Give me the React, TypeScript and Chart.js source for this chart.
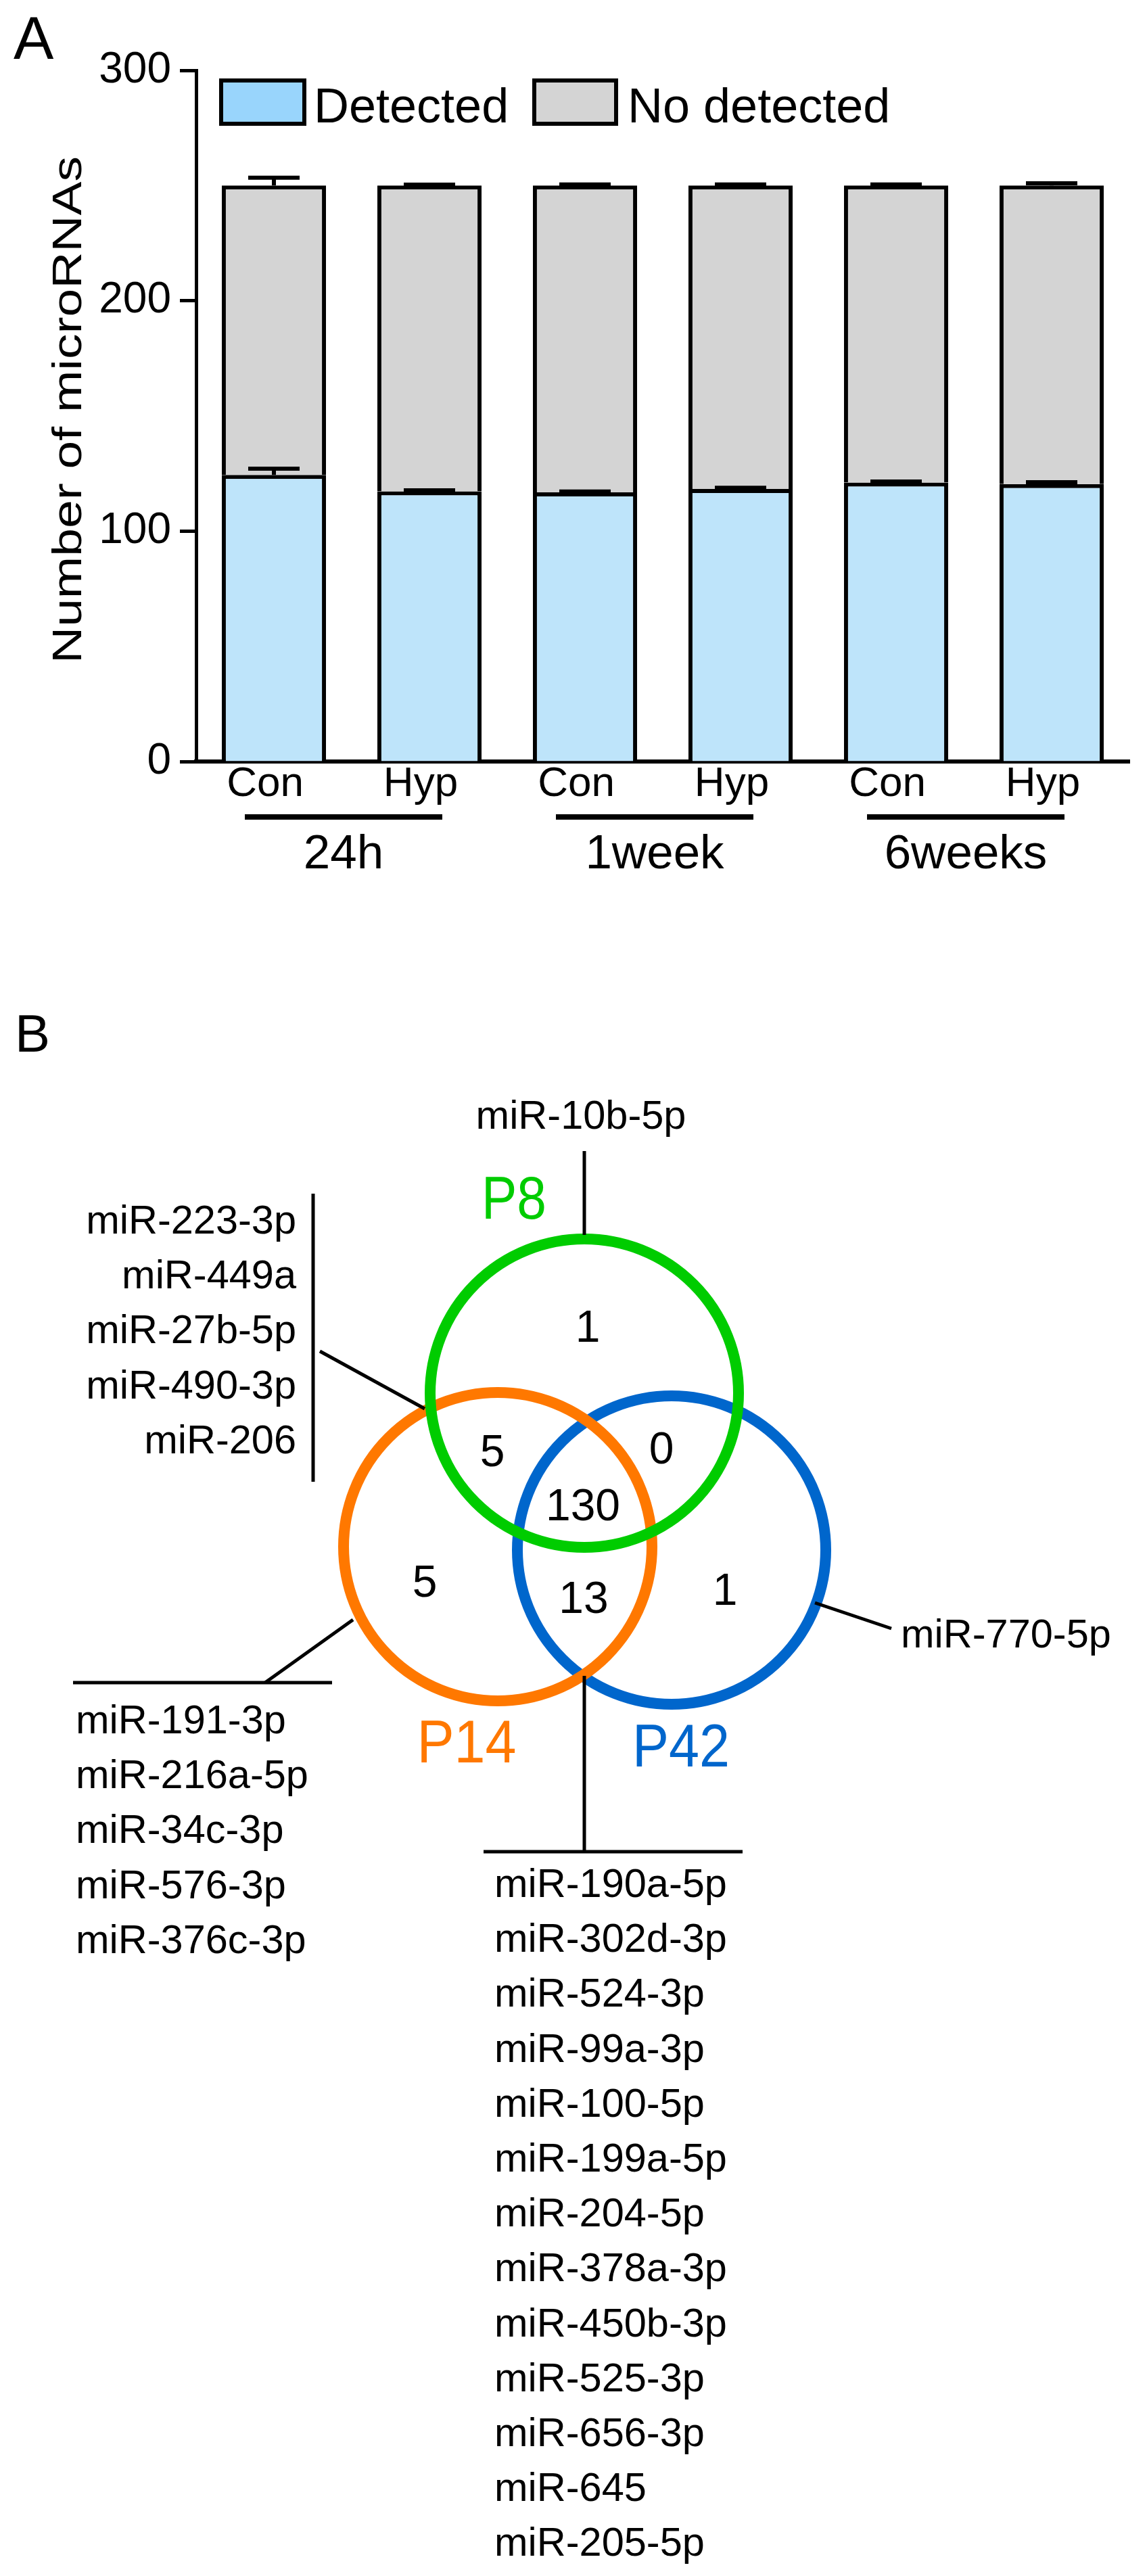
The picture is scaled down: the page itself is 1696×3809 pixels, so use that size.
import React, { useEffect, useRef } from "react";
import { Chart, registerables } from "chart.js";

Chart.register(...registerables);

const FONT = '"Liberation Sans", Arial, sans-serif';

// ---------------- Panel A data ----------------
const groups = ["24h", "1week", "6weeks"];
const conditions = ["Con", "Hyp", "Con", "Hyp", "Con", "Hyp"];
const seriesNames = ["Detected", "No detected"];
const detected = [124.4, 117.3, 116.8, 118.3, 121.1, 120.4];
const detectedErr = [2.7, 0.4, 0.4, 0.5, 0.4, 0.8];
const notDetected = [125.6, 132.7, 133.2, 131.7, 128.9, 129.6];
const notDetectedErr = [3.4, 0.4, 0.5, 0.5, 0.5, 1.0];
const yTicks = [0, 100, 200, 300];
const yTitle = "Number of microRNAs";

// ---------------- Panel B data ----------------
const vennSets = ["P8", "P14", "P42"];
const regionNames = ["P8 only", "P8∩P14", "P8∩P42", "P8∩P14∩P42", "P14 only", "P14∩P42", "P42 only"];
const regionCounts = [1, 5, 0, 130, 5, 13, 1];
const p8OnlyMiRs = ["miR-10b-5p"];
const p8p14MiRs = ["miR-223-3p", "miR-449a", "miR-27b-5p", "miR-490-3p", "miR-206"];
const p14OnlyMiRs = ["miR-191-3p", "miR-216a-5p", "miR-34c-3p", "miR-576-3p", "miR-376c-3p"];
const p14p42MiRs = [
  "miR-190a-5p", "miR-302d-3p", "miR-524-3p", "miR-99a-3p", "miR-100-5p", "miR-199a-5p",
  "miR-204-5p", "miR-378a-3p", "miR-450b-3p", "miR-525-3p", "miR-656-3p", "miR-645", "miR-205-5p",
];
const p42OnlyMiRs = ["miR-770-5p"];

// ---------------- Styles / layout ----------------
const BAR_BLUE = "#BEE4FA";
const BAR_GRAY = "#D4D4D4";
const LEGEND_COLORS = ["#99D5FC", "#D4D4D4"];
const SET_COLORS = ["#00CC00", "#FF7800", "#0066CC"];

const W = 1696;
const HA = 1400;
const HB = 3809 - 1400;

const VENN = {
  centers: [
    { x: 864, y: 2060 },
    { x: 736, y: 2287 },
    { x: 993, y: 2292 },
  ],
  r: 228,
  lw: 16,
  setLabel: [
    { x: 760, y: 1802, w: 96 },
    { x: 690, y: 2606, w: 147 },
    { x: 1007, y: 2612, w: 144 },
  ],
  countPos: [
    { x: 869, y: 1984 },
    { x: 728, y: 2168 },
    { x: 978, y: 2164 },
    { x: 862, y: 2248 },
    { x: 628, y: 2361 },
    { x: 863, y: 2385 },
    { x: 1072, y: 2373 },
  ],
  leaders: [
    [{ x: 864, y: 1702 }, { x: 864, y: 1826 }],
    [{ x: 463, y: 1765 }, { x: 463, y: 2191 }],
    [{ x: 473, y: 1998 }, { x: 628, y: 2083 }],
    [{ x: 108, y: 2488 }, { x: 491, y: 2488 }],
    [{ x: 392, y: 2488 }, { x: 522, y: 2395 }],
    [{ x: 864, y: 2478 }, { x: 864, y: 2738 }],
    [{ x: 715, y: 2738 }, { x: 1098, y: 2738 }],
    [{ x: 1205, y: 2370 }, { x: 1318, y: 2408 }],
  ],
  lists: [
    { items: p8OnlyMiRs, x: 859, y: 1669, align: "center" as CanvasTextAlign },
    { items: p8p14MiRs, x: 438, y: 1824, align: "right" as CanvasTextAlign },
    { items: p14OnlyMiRs, x: 112, y: 2563, align: "left" as CanvasTextAlign },
    { items: p14p42MiRs, x: 731, y: 2805, align: "left" as CanvasTextAlign },
    { items: p42OnlyMiRs, x: 1332, y: 2436, align: "left" as CanvasTextAlign },
  ],
  listStep: 81.2,
  listSize: 59.5,
};

function drawText(
  ctx: CanvasRenderingContext2D,
  text: string,
  x: number,
  y: number,
  size: number,
  align: CanvasTextAlign,
  color: string,
  targetWidth?: number
) {
  ctx.save();
  ctx.font = `${size}px ${FONT}`;
  ctx.fillStyle = color;
  ctx.textBaseline = "alphabetic";
  ctx.textAlign = align;
  let sx = 1;
  if (targetWidth) sx = targetWidth / ctx.measureText(text).width;
  ctx.translate(x, y);
  ctx.scale(sx, 1);
  ctx.fillText(text, 0, 0);
  ctx.restore();
}

const panelAPlugin = {
  id: "panelA",
  afterDatasetsDraw(chart: any) {
    const ctx: CanvasRenderingContext2D = chart.ctx;
    const xs = chart.scales.x;
    const ys = chart.scales.y;
    ctx.save();
    ctx.strokeStyle = "#000";
    ctx.lineWidth = 6;
    ctx.lineCap = "butt";
    const capHalf = 38;
    for (let i = 0; i < conditions.length; i++) {
      const x = xs.getPixelForValue(i);
      const pairs = [
        [detected[i], detectedErr[i]],
        [detected[i] + notDetected[i], notDetectedErr[i]],
      ];
      for (const [v, e] of pairs) {
        const y0 = ys.getPixelForValue(v);
        const y1 = ys.getPixelForValue(v + e);
        ctx.beginPath();
        ctx.moveTo(x, y0);
        ctx.lineTo(x, y1);
        ctx.moveTo(x - capHalf, y1);
        ctx.lineTo(x + capHalf, y1);
        ctx.stroke();
      }
    }
    ctx.restore();
  },
  afterDraw(chart: any) {
    const ctx: CanvasRenderingContext2D = chart.ctx;
    const xs = chart.scales.x;
    const area = chart.chartArea;

    drawText(ctx, "A", 20, 87, 89, "left", "#000");

    ctx.save();
    ctx.translate(120, (area.top + area.bottom) / 2 - 9);
    ctx.rotate(-Math.PI / 2);
    ctx.font = `61px ${FONT}`;
    const sx = 750 / ctx.measureText(yTitle).width;
    ctx.scale(sx, 1);
    ctx.fillStyle = "#000";
    ctx.textAlign = "center";
    ctx.textBaseline = "alphabetic";
    ctx.fillText(yTitle, 0, 0);
    ctx.restore();

    const boxes = [
      { x: 324, w: 129, tx: 464 },
      { x: 787, w: 127, tx: 928 },
    ];
    boxes.forEach((b, i) => {
      ctx.save();
      ctx.fillStyle = LEGEND_COLORS[i];
      ctx.fillRect(b.x, 116, b.w, 70);
      ctx.strokeStyle = "#000";
      ctx.lineWidth = 6;
      ctx.strokeRect(b.x + 3, 119, b.w - 6, 64);
      ctx.restore();
      drawText(ctx, seriesNames[i], b.tx, 181, 72, "left", "#000");
    });

    groups.forEach((g, gi) => {
      const c = (xs.getPixelForValue(gi * 2) + xs.getPixelForValue(gi * 2 + 1)) / 2 - 12;
      ctx.save();
      ctx.strokeStyle = "#000";
      ctx.lineWidth = 8;
      ctx.beginPath();
      ctx.moveTo(c - 146, 1208);
      ctx.lineTo(c + 146, 1208);
      ctx.stroke();
      ctx.restore();
      drawText(ctx, g, c, 1284, 71, "center", "#000");
    });
  },
};

const panelBPlugin = {
  id: "panelB",
  afterDatasetsDraw(chart: any) {
    const ctx: CanvasRenderingContext2D = chart.ctx;
    const xs = chart.scales.x;
    const ys = chart.scales.y;
    const px = (x: number) => xs.getPixelForValue(x);
    const py = (y: number) => ys.getPixelForValue(y);

    drawText(ctx, "B", px(22), py(1555), 78, "left", "#000");

    vennSets.forEach((s, i) => {
      const p = VENN.setLabel[i];
      drawText(ctx, s, px(p.x), py(p.y), 89, "center", SET_COLORS[i], p.w);
    });

    regionCounts.forEach((n, i) => {
      const p = VENN.countPos[i];
      drawText(ctx, String(n), px(p.x), py(p.y), 66, "center", "#000");
    });

    VENN.lists.forEach((l) => {
      l.items.forEach((t, k) => {
        drawText(ctx, t, px(l.x), py(l.y + k * VENN.listStep), VENN.listSize, l.align, "#000");
      });
    });
  },
};

function PanelA() {
  const ref = useRef<HTMLCanvasElement | null>(null);
  useEffect(() => {
    if (!ref.current) return;
    const chart = new Chart(ref.current, {
      type: "bar",
      data: {
        labels: conditions,
        datasets: [
          {
            label: seriesNames[0],
            data: detected,
            backgroundColor: BAR_BLUE,
            borderColor: "#000",
            borderWidth: 6,
            borderSkipped: "start",
            barPercentage: 0.67,
            categoryPercentage: 1.0,
          },
          {
            label: seriesNames[1],
            data: notDetected,
            backgroundColor: BAR_GRAY,
            borderColor: "#000",
            borderWidth: 6,
            borderSkipped: "start",
            barPercentage: 0.67,
            categoryPercentage: 1.0,
          },
        ],
      },
      options: {
        responsive: false,
        animation: false,
        devicePixelRatio: 1,
        events: [],
        layout: { padding: { left: 0, top: 104, right: 26, bottom: 0 } },
        plugins: { legend: { display: false }, tooltip: { enabled: false } },
        scales: {
          x: {
            stacked: true,
            z: 1,
            grid: { display: false, drawTicks: false },
            border: { display: true, width: 6, color: "#000" },
            ticks: {
              font: { family: FONT, size: 62 },
              color: "#000",
              padding: -3,
              labelOffset: -13,
              maxRotation: 0,
              autoSkip: false,
            },
            afterFit: (s: any) => {
              s.height = HA - 1126;
            },
          },
          y: {
            stacked: true,
            z: 1,
            min: 0,
            max: 300,
            afterBuildTicks: (s: any) => {
              s.ticks = yTicks.map((v) => ({ value: v }));
            },
            grid: {
              display: true,
              drawOnChartArea: false,
              drawTicks: true,
              tickLength: 24,
              tickWidth: 5,
              tickColor: "#000",
            },
            border: { display: true, width: 5, color: "#000" },
            ticks: { font: { family: FONT, size: 64 }, color: "#000", padding: 13 },
            afterFit: (s: any) => {
              s.width = 290;
            },
          },
        },
      } as any,
      plugins: [panelAPlugin],
    });
    return () => chart.destroy();
  }, []);
  return <canvas ref={ref} width={W} height={HA} style={{ display: "block", width: W, height: HA }} />;
}

function PanelB() {
  const ref = useRef<HTMLCanvasElement | null>(null);
  useEffect(() => {
    if (!ref.current) return;
    const circleSets = vennSets.map((s, i) => ({
      type: "bubble",
      label: s,
      data: [{ x: VENN.centers[i].x, y: VENN.centers[i].y, r: VENN.r }],
      backgroundColor: "rgba(0,0,0,0)",
      borderColor: SET_COLORS[i],
      borderWidth: VENN.lw,
      clip: false,
    }));
    const leaderSets = VENN.leaders.map((pts, i) => ({
      type: "scatter",
      label: "leader" + i,
      data: pts,
      showLine: true,
      borderColor: "#000",
      borderWidth: 5,
      pointRadius: 0,
      tension: 0,
      clip: false,
    }));
    const chart = new Chart(ref.current, {
      type: "scatter",
      data: { datasets: [...leaderSets, ...circleSets] as any },
      options: {
        responsive: false,
        animation: false,
        devicePixelRatio: 1,
        events: [],
        layout: { padding: 0, autoPadding: false },
        plugins: { legend: { display: false }, tooltip: { enabled: false } },
        scales: {
          x: { type: "linear", min: 0, max: W, display: false },
          y: { type: "linear", min: 1400, max: 3809, reverse: true, display: false },
        },
      } as any,
      plugins: [panelBPlugin],
    });
    return () => chart.destroy();
  }, []);
  return <canvas ref={ref} width={W} height={HB} style={{ display: "block", width: W, height: HB }} />;
}

export default function App() {
  return (
    <div style={{ position: "absolute", left: 0, top: 0, width: W, background: "#fff" }}>
      <PanelA />
      <PanelB />
    </div>
  );
}
